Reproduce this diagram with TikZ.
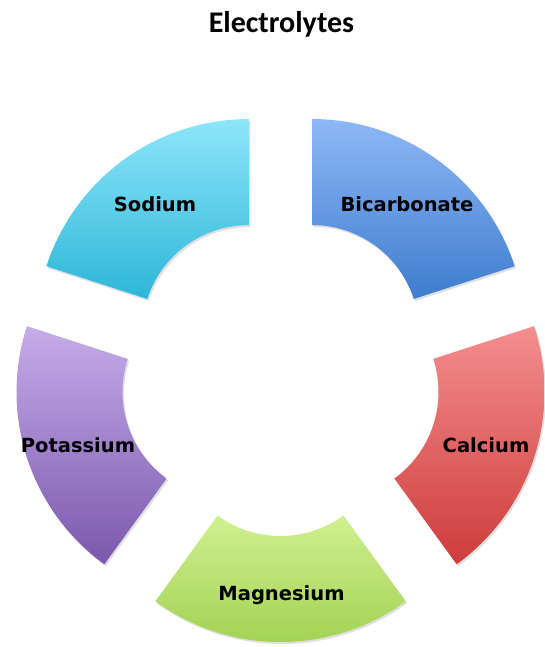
\documentclass[tikz,border=0pt]{standalone}
\usepackage{fontspec}
\newfontfamily\titlefont{Carlito}
\newfontfamily\labelfont{DejaVu Sans}
\usetikzlibrary{shadows}
\definecolor{sodtop}{RGB}{142,230,250}
\definecolor{sodbot}{RGB}{45,182,216}
\definecolor{bictop}{RGB}{142,184,246}
\definecolor{bicbot}{RGB}{62,124,206}
\definecolor{caltop}{RGB}{244,142,142}
\definecolor{calbot}{RGB}{206,60,60}
\definecolor{magtop}{RGB}{208,240,145}
\definecolor{magbot}{RGB}{158,208,78}
\definecolor{pottop}{RGB}{198,172,234}
\definecolor{potbot}{RGB}{122,88,172}
\tikzset{
  seg/.style={drop shadow={shadow xshift=1.5pt,shadow yshift=-2pt,opacity=0.25}},
  lbl/.style={font=\labelfont\bfseries\fontsize{19.5}{22}\selectfont, text=black, anchor=base, inner sep=0pt},
}
\begin{document}
\begin{tikzpicture}[x=1pt,y=1pt]
\useasboundingbox (0,0) rectangle (545,647);
\node[font=\titlefont\bfseries\fontsize{30}{34}\selectfont, anchor=base, inner sep=0pt] (title) at (281.5,614) {Electrolytes};
\begin{scope}[shift={(280.5,271.6)}]
  % Bicarbonate
  \path[seg, top color=bictop, bottom color=bicbot, shift={(54:53.6)}]
    (18:213) arc[start angle=18, end angle=90, radius=213] -- (90:107)
    arc[start angle=90, end angle=18, radius=107] -- cycle;
  % Sodium
  \path[seg, top color=sodtop, bottom color=sodbot, shift={(126:53.6)}]
    (90:213) arc[start angle=90, end angle=162, radius=213] -- (162:107)
    arc[start angle=162, end angle=90, radius=107] -- cycle;
  % Potassium
  \path[seg, top color=pottop, bottom color=potbot, shift={(198:53.6)}]
    (162:213) arc[start angle=162, end angle=234, radius=213] -- (234:107)
    arc[start angle=234, end angle=162, radius=107] -- cycle;
  % Magnesium
  \path[seg, top color=magtop, bottom color=magbot, shift={(270:53.6)}]
    (234:213) arc[start angle=234, end angle=306, radius=213] -- (306:107)
    arc[start angle=306, end angle=234, radius=107] -- cycle;
  % Calcium
  \path[seg, top color=caltop, bottom color=calbot, shift={(342:53.6)}]
    (-54:213) arc[start angle=-54, end angle=18, radius=213] -- (18:107)
    arc[start angle=18, end angle=-54, radius=107] -- cycle;
\end{scope}
\node[lbl] (sodium) at (155,435) {Sodium};
\node[lbl] (bicarbonate) at (407,435) {Bicarbonate};
\node[lbl] (potassium) at (78,194) {Potassium};
\node[lbl] (calcium) at (486,194) {Calcium};
\node[lbl] (magnesium) at (281.5,46) {Magnesium};
\end{tikzpicture}
\end{document}
